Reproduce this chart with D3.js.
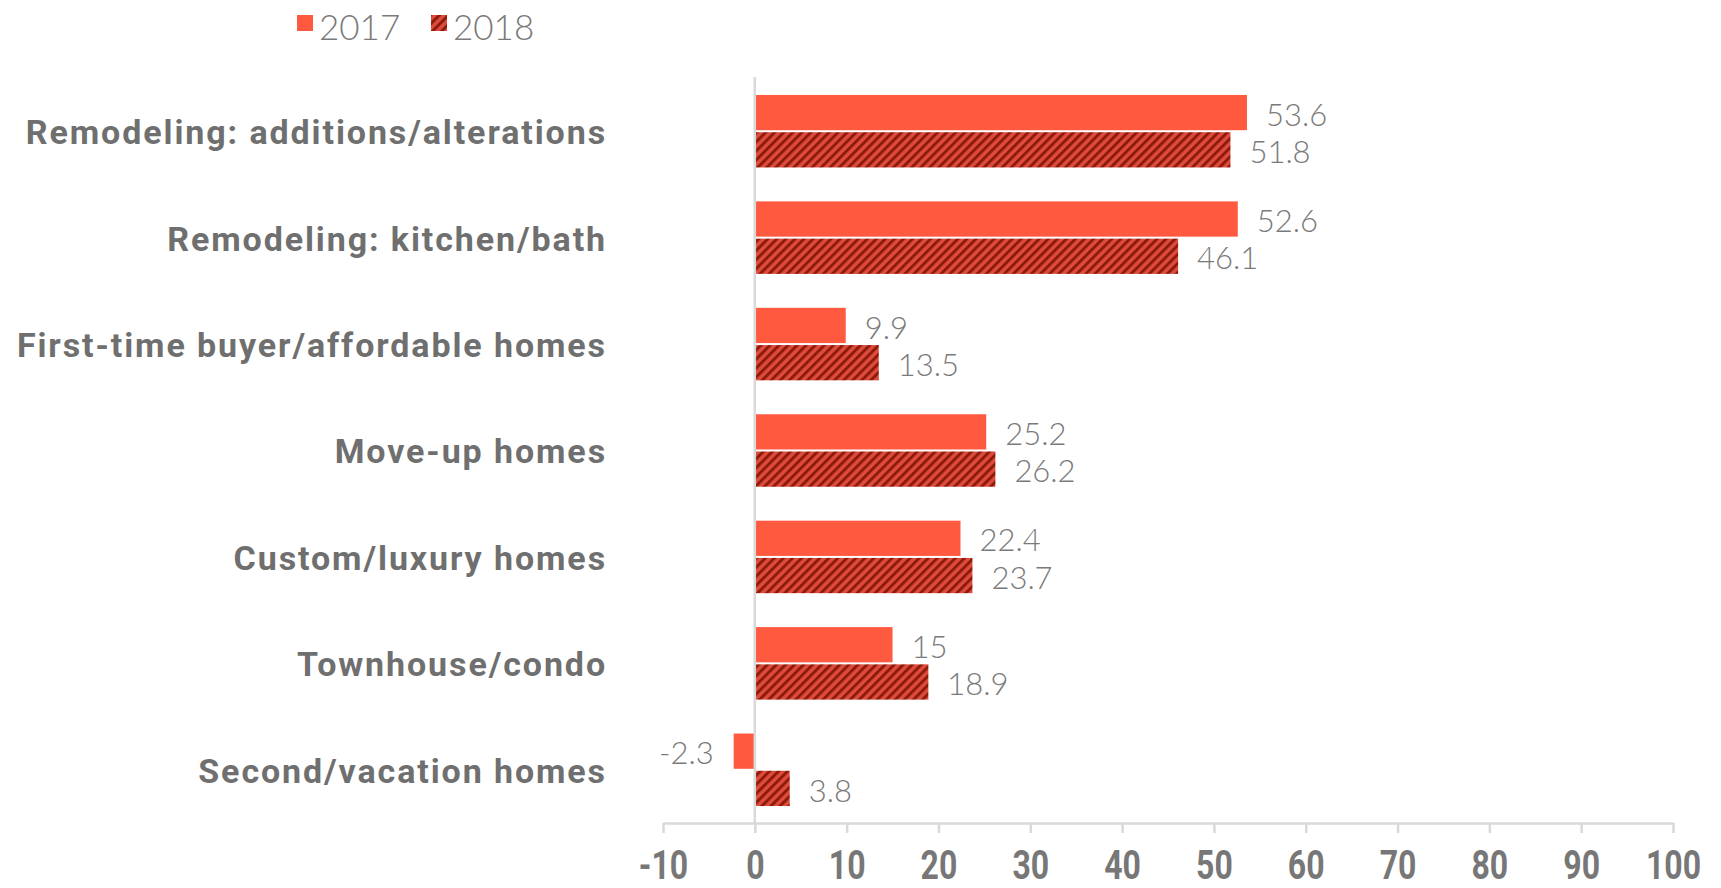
<!DOCTYPE html>
<html>
<head>
<meta charset="utf-8">
<script src="https://cdn.jsdelivr.net/npm/d3@7"></script>
<style>
  body { margin: 0; background: #fff; }
  svg { display: block; }
</style>
</head>
<body>
<div id="chart"></div>
<script>
// data
var categories = [
  'Remodeling: additions/alterations',
  'Remodeling: kitchen/bath',
  'First-time buyer/affordable homes',
  'Move-up homes',
  'Custom/luxury homes',
  'Townhouse/condo',
  'Second/vacation homes'
];
var seriesNames = ['2017', '2018'];
var values2017 = [53.6, 52.6, 9.9, 25.2, 22.4, 15, -2.3];
var values2018 = [51.8, 46.1, 13.5, 26.2, 23.7, 18.9, 3.8];
var xTicks = [-10, 0, 10, 20, 30, 40, 50, 60, 70, 80, 90, 100];

var width = 1721, height = 888;
var c2017 = '#ff5a40';
var gray = '#6f6f6f';

var svg = d3.select('#chart').append('svg')
  .attr('width', width)
  .attr('height', height);

// hatch for the 2018 bars
var defs = svg.append('defs');
var pat = defs.append('pattern')
  .attr('id', 'hatch')
  .attr('patternUnits', 'userSpaceOnUse')
  .attr('width', 6.4)
  .attr('height', 6.4)
  .attr('patternTransform', 'rotate(45)');
pat.append('rect').attr('width', 6.4).attr('height', 6.4).attr('fill', '#de4a3c');
pat.append('rect').attr('width', 2.9).attr('height', 6.4).attr('fill', '#8c1b0b');

var x = d3.scaleLinear().domain([-10, 100]).range([663, 1673]);
var y = d3.scaleBand().domain(categories).range([78, 823])
  .paddingInner(0.3).paddingOuter(0.15);
var bh = y.bandwidth() / 2;

var rows = categories.map(function (c, i) {
  return { name: c, v: [values2017[i], values2018[i]] };
});

// category labels
svg.append('g').selectAll('text')
  .data(categories)
  .enter().append('text')
  .attr('x', 607)
  .attr('y', function (d) { return y(d) + y.bandwidth() / 2; })
  .attr('dy', '0.38em')
  .attr('text-anchor', 'end')
  .style('font-family', 'Roboto, "Open Sans", sans-serif')
  .style('font-weight', 700)
  .style('font-size', '34px')
  .style('letter-spacing', '1.9px')
  .style('fill', gray)
  .text(function (d) { return d; });

// bars
var groups = svg.append('g').selectAll('g')
  .data(rows)
  .enter().append('g');

groups.selectAll('rect')
  .data(function (d) { return d.v.map(function (v, k) { return { name: d.name, v: v, k: k }; }); })
  .enter().append('rect')
  .attr('x', function (d) { return x(Math.min(0, d.v)); })
  .attr('y', function (d) { return y(d.name) + d.k * bh + 1; })
  .attr('width', function (d) { return Math.abs(x(d.v) - x(0)); })
  .attr('height', bh - 2)
  .attr('fill', function (d) { return d.k === 0 ? c2017 : 'url(#hatch)'; });

// value labels
groups.selectAll('text')
  .data(function (d) { return d.v.map(function (v, k) { return { name: d.name, v: v, k: k }; }); })
  .enter().append('text')
  .attr('x', function (d) { return d.v < 0 ? x(d.v) - 20 : x(d.v) + 19; })
  .attr('y', function (d) { return y(d.name) + d.k * bh + bh / 2 + 2; })
  .attr('dy', '0.36em')
  .attr('text-anchor', function (d) { return d.v < 0 ? 'end' : 'start'; })
  .style('font-family', 'Lato, "Open Sans", sans-serif')
  .style('font-weight', 300)
  .style('font-size', '31px')
  .style('fill', '#7a7a7a')
  .text(function (d) { return d.v; });

// zero line
svg.append('line')
  .attr('x1', x(0)).attr('x2', x(0))
  .attr('y1', 77).attr('y2', 823)
  .attr('stroke', '#d9d9d9')
  .attr('stroke-width', 2.5);

// x axis
var axis = svg.append('g')
  .attr('transform', 'translate(0,823)')
  .call(d3.axisBottom(x).tickValues(xTicks).tickSize(10).tickSizeOuter(0)
    .tickPadding(18).tickFormat(function (d) { return String(d); }));
axis.select('.domain').attr('stroke', '#d9d9d9').attr('stroke-width', 2.5);
axis.selectAll('.tick line').attr('stroke', '#d9d9d9').attr('stroke-width', 2.5);
axis.selectAll('.tick text')
  .attr('dy', '0.71em')
  .attr('transform', 'scale(0.8,1)')
  .style('font-family', 'Roboto, sans-serif')
  .style('font-weight', 700)
  .style('font-size', '40px')
  .style('fill', '#777');

// legend
var legend = svg.append('g');
var legX = [297, 431];
seriesNames.forEach(function (s, i) {
  legend.append('rect')
    .attr('x', legX[i]).attr('y', 15)
    .attr('width', 16).attr('height', 16)
    .attr('fill', i === 0 ? c2017 : 'url(#hatch)');
  legend.append('text')
    .attr('x', legX[i] + 22).attr('y', 40)
    .style('font-family', 'Lato, "Open Sans", sans-serif')
    .style('font-weight', 300)
    .style('font-size', '35px')
    .style('fill', '#7a7a7a')
    .text(s);
});
</script>
</body>
</html>
